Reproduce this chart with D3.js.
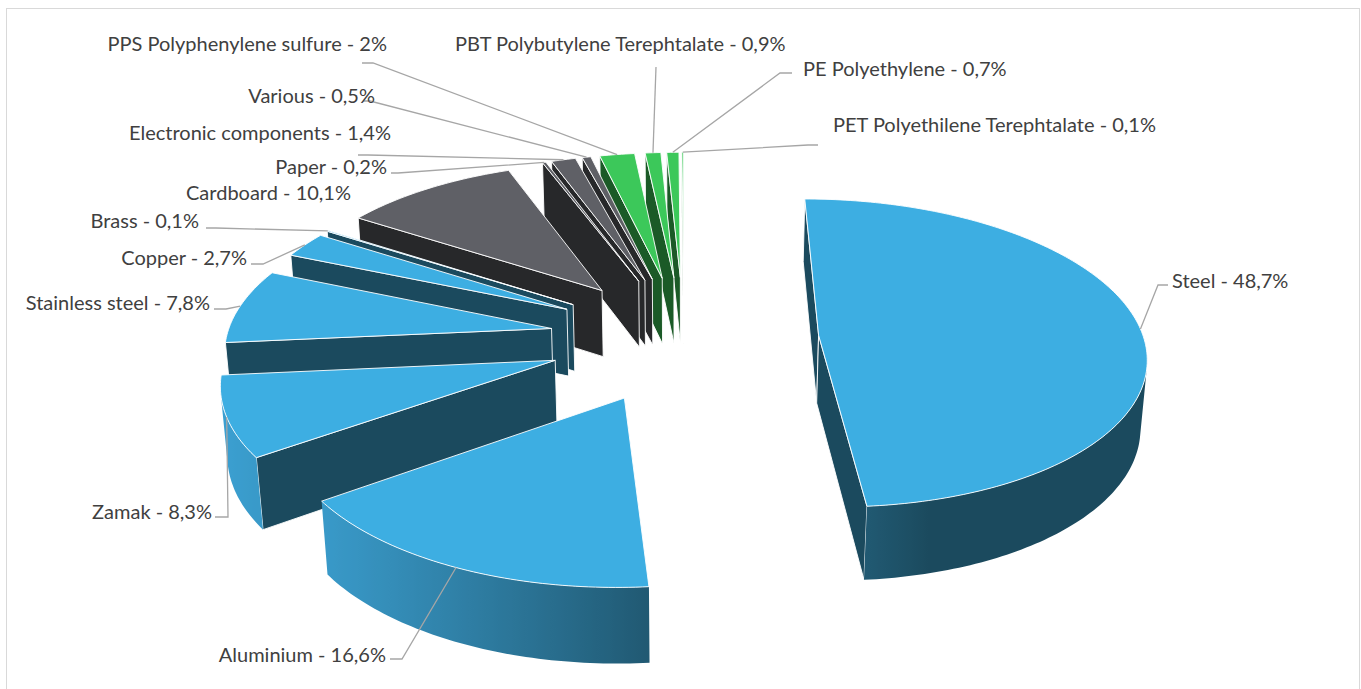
<!DOCTYPE html>
<html>
<head>
<meta charset="utf-8">
<script src="https://cdn.jsdelivr.net/npm/d3@7/dist/d3.min.js"></script>
<style>
  body { margin: 0; background: #fff; }
  svg { display: block; }
  text { font-family: Lato, "Noto Sans", sans-serif; fill: #404040; }
</style>
</head>
<body>
<div id="chart"></div>
<script>
// --- data ---
var categories = ["Steel", "Aluminium", "Zamak", "Stainless steel", "Copper", "Brass",
    "Cardboard", "Paper", "Electronic components", "Various",
    "PPS Polyphenylene sulfure", "PBT Polybutylene Terephtalate", "PE Polyethylene",
    "PET Polyethilene Terephtalate"];
var values = [48.7, 16.6, 8.3, 7.8, 2.7, 0.1, 10.1, 0.2, 1.4, 0.5, 2, 0.9, 0.7, 0.1];
var groups = ["metal", "metal", "metal", "metal", "metal", "metal",
    "paper", "paper", "paper", "paper",
    "plastic", "plastic", "plastic", "plastic"];

// --- label layout (x, centre y, anchor, leader start [x, y, elbow x]) ---
var labelLayout = [
    { x: 1172, y: 281, anchor: "start", lead: [1168, 285, 1158] },
    { x: 386, y: 655, anchor: "end", lead: [390, 659, 402] },
    { x: 212, y: 512, anchor: "end", lead: [215, 517, 228] },
    { x: 210, y: 303, anchor: "end", lead: [214, 309, 226] },
    { x: 247, y: 258, anchor: "end", lead: [251, 264, 263] },
    { x: 199, y: 221, anchor: "end", lead: [206, 228, 216] },
    { x: 351, y: 193, anchor: "end", lead: null },
    { x: 387, y: 167, anchor: "end", lead: [391, 173, 398] },
    { x: 391, y: 133, anchor: "end", lead: [358, 155, 368] },
    { x: 375, y: 96, anchor: "end", lead: [363, 101, 370] },
    { x: 387, y: 44, anchor: "end", lead: [362, 63, 373] },
    { x: 455, y: 44, anchor: "start", lead: [656, 67, 656] },
    { x: 803, y: 69, anchor: "start", lead: [792, 73, 780] },
    { x: 833, y: 125, anchor: "start", lead: [818, 145, 808] }
];

var palette = {
    metal:   { top: "#3daee2", face: "#1b4a5e", dark: "#1b4a5e", light: "#3b9fd0" },
    paper:   { top: "#5f6066", face: "#27282a", dark: "#27282a", light: "#4b4c50" },
    plastic: { top: "#3cc85a", face: "#1b5a27", dark: "#1b5a27", light: "#2f9a45" }
};

var W = 1361, H = 689;
var view = { cx: 684, cy: 338, R: 325, depth: 78, tilt: 28, D: 2500, explode: 135, start: 0, light: 255 };

var rad = Math.PI / 180;
var sinT = Math.sin(view.tilt * rad), cosT = Math.cos(view.tilt * rad);
var cam = [0, view.D * sinT, -view.D * cosT];

// perspective projection of a world point (X right, Y up, Z back)
function project(X, Y, Z) {
    var u = Y * cosT + Z * sinT;
    var w = Z * cosT - Y * sinT;
    var p = view.D / (view.D + w);
    return [view.cx + X * p, view.cy - u * p];
}

function facesCamera(px, pz, nx, nz) {
    return nx * (cam[0] - px) + nz * (cam[2] - pz) > 0;
}

var fmt = function (v) { return String(v).replace(".", ",") + "%"; };

var svg = d3.select("#chart").append("svg")
    .attr("width", W)
    .attr("height", H);

var defs = svg.append("defs");

svg.append("rect")
    .attr("x", 6.5).attr("y", 8.5)
    .attr("width", 1353).attr("height", 700)
    .attr("fill", "none")
    .attr("stroke", "#d9d9d9");

var pie = d3.pie().sort(null).value(function (d) { return d; })
    .startAngle(view.start * rad)
    .endAngle(view.start * rad + 2 * Math.PI);
var arcs = pie(values);

var slices = arcs.map(function (a, i) {
    var mid = (a.startAngle + a.endAngle) / 2;
    var ox = view.explode * Math.sin(mid), oz = view.explode * Math.cos(mid);
    var n = Math.max(2, Math.ceil((a.endAngle - a.startAngle) / rad));
    var angs = d3.range(n + 1).map(function (k) {
        return a.startAngle + (a.endAngle - a.startAngle) * k / n;
    });
    var wx = ox + 0.5 * view.R * Math.sin(mid), wz = oz + 0.5 * view.R * Math.cos(mid);
    var dist = Math.hypot(wx - cam[0], -view.depth / 2 - cam[1], wz - cam[2]);
    return { i: i, a: a, mid: mid, ox: ox, oz: oz, angs: angs, dist: dist };
});

function pt(s, ang, r, y) {
    return project(s.ox + r * Math.sin(ang), y, s.oz + r * Math.cos(ang));
}

var poly = function (pts) { return "M" + pts.map(function (p) { return p.join(","); }).join("L") + "Z"; };

var drawOrder = slices.slice().sort(function (a, b) { return b.dist - a.dist; });

var pieG = svg.append("g").attr("class", "pie3d");

drawOrder.forEach(function (s) {
    var pal = palette[groups[s.i]];
    var g = pieG.append("g");
    var R = view.R, Hd = -view.depth;
    var a0 = s.a.startAngle, a1 = s.a.endAngle;

    // cut faces
    [[a0, -Math.cos(a0), Math.sin(a0)], [a1, Math.cos(a1), -Math.sin(a1)]].forEach(function (c) {
        if (!facesCamera(s.ox, s.oz, c[1], c[2])) return;
        g.append("path")
            .attr("d", poly([pt(s, c[0], 0, 0), pt(s, c[0], R, 0), pt(s, c[0], R, Hd), pt(s, c[0], 0, Hd)]))
            .attr("fill", pal.face).attr("stroke", "#fff").attr("stroke-width", 0.9)
            .attr("stroke-linejoin", "round");
    });

    // outer curved side: visible runs of the arc, filled with a shaded gradient
    var runs = [], cur = null;
    s.angs.forEach(function (an) {
        var px = s.ox + R * Math.sin(an), pz = s.oz + R * Math.cos(an);
        if (facesCamera(px, pz, Math.sin(an), Math.cos(an))) {
            if (!cur) { cur = []; runs.push(cur); }
            cur.push(an);
        } else cur = null;
    });
    runs.forEach(function (run, ri) {
        if (run.length < 2) return;
        var topPts = run.map(function (an) { return pt(s, an, R, 0); });
        var botPts = run.map(function (an) { return pt(s, an, R, Hd); }).reverse();
        var x1 = topPts[0][0], x2 = topPts[topPts.length - 1][0];
        var id = "side" + s.i + "_" + ri;
        var grad = defs.append("linearGradient")
            .attr("id", id)
            .attr("gradientUnits", "userSpaceOnUse")
            .attr("x1", x1).attr("y1", 0).attr("x2", x2).attr("y2", 0);
        run.forEach(function (an, k) {
            var f = Math.max(0, Math.cos(an - view.light * rad));
            var off = x2 === x1 ? 0 : (topPts[k][0] - x1) / (x2 - x1);
            grad.append("stop")
                .attr("offset", Math.max(0, Math.min(1, off)))
                .attr("stop-color", d3.interpolateRgb(pal.dark, pal.light)(f));
        });
        g.append("path")
            .attr("d", poly(topPts.concat(botPts)))
            .attr("fill", "url(#" + id + ")");
    });

    // top face
    var top = [pt(s, 0, 0, 0)].concat(s.angs.map(function (an) { return pt(s, an, R, 0); }));
    g.append("path")
        .attr("d", poly(top))
        .attr("fill", pal.top)
        .attr("stroke", "#fff").attr("stroke-width", 0.9)
        .attr("stroke-linejoin", "round");
});

// --- leader lines ---
var leaders = svg.append("g").attr("class", "leaders");
slices.forEach(function (s) {
    var L = labelLayout[s.i];
    if (!L.lead) return;
    var target = pt(s, s.mid, view.R, 0);
    leaders.append("path")
        .attr("d", d3.line()([[L.lead[0], L.lead[1]], [L.lead[2], L.lead[1]], target]))
        .attr("fill", "none")
        .attr("stroke", "#a6a6a6")
        .attr("stroke-width", 1.3);
});

// --- labels ---
svg.append("g").attr("class", "labels")
    .selectAll("text")
    .data(categories)
    .enter().append("text")
    .attr("x", function (d, i) { return labelLayout[i].x; })
    .attr("y", function (d, i) { return labelLayout[i].y; })
    .attr("dy", "0.35em")
    .attr("text-anchor", function (d, i) { return labelLayout[i].anchor; })
    .style("font-size", "20px")
    .text(function (d, i) { return d + " - " + fmt(values[i]); });
</script>
</body>
</html>
